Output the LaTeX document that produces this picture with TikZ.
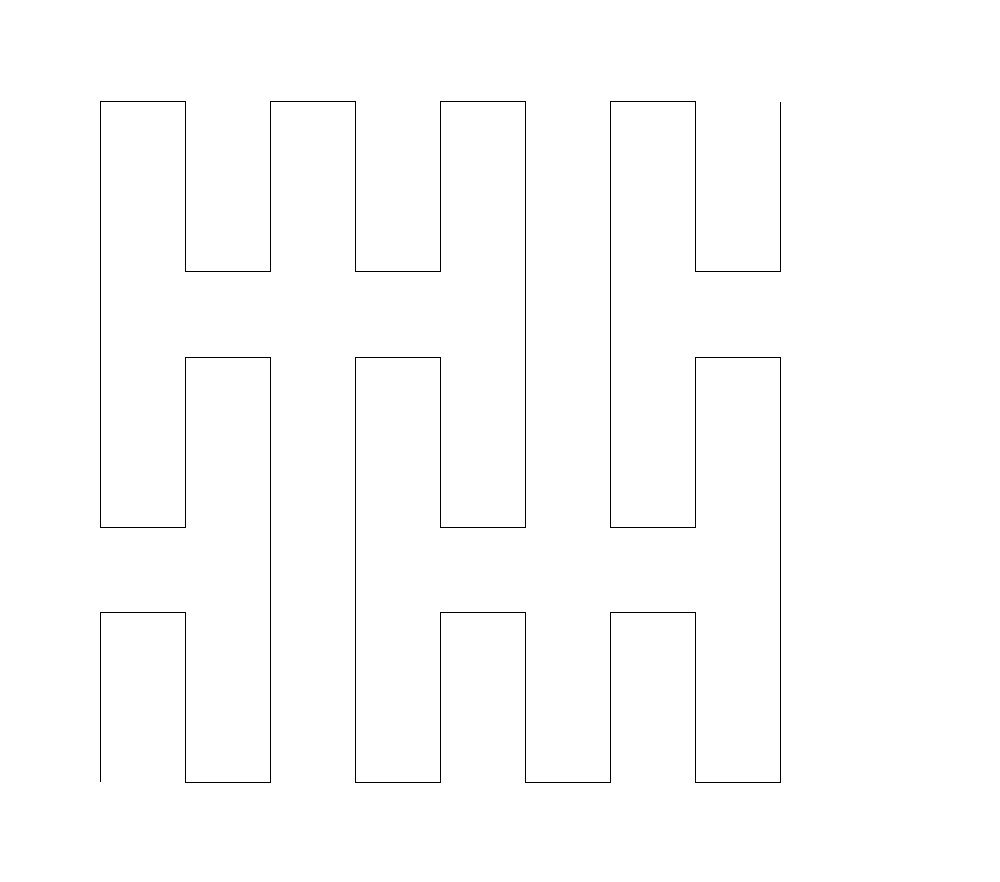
\documentclass[tikz,border=0pt]{standalone}
\begin{document}
\begin{tikzpicture}[x=1pt,y=-1pt,maze/.style={draw=black,line width=1pt,line join=miter}]
\useasboundingbox (0,0) rectangle (1000,882);
\draw[maze] (100,782) -- (100,612) -- (185,612) -- (185,782) -- (270,782) -- (270,357) -- (185,357) -- (185,527) -- (100,527) -- (100,102) -- (185,102) -- (185,272) -- (270,272) -- (270,102) -- (355,102) -- (355,272) -- (440,272) -- (440,102) -- (525,102) -- (525,527) -- (440,527) -- (440,357) -- (355,357) -- (355,782) -- (440,782) -- (440,612) -- (525,612) -- (525,782) -- (610,782) -- (610,612) -- (695,612) -- (695,782) -- (780,782) -- (780,357) -- (695,357) -- (695,527) -- (610,527) -- (610,102) -- (695,102) -- (695,272) -- (780,272) -- (780,102);
\end{tikzpicture}
\end{document}
